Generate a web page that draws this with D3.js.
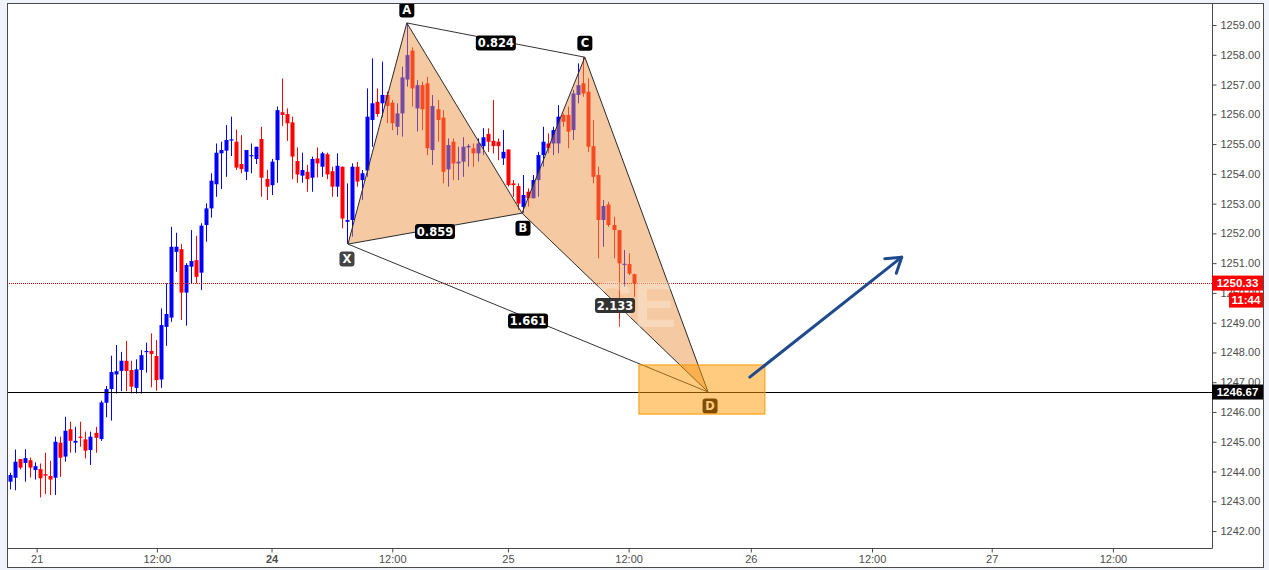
<!DOCTYPE html>
<html><head><meta charset="utf-8">
<script src="https://cdn.jsdelivr.net/npm/d3@7"></script>
<style>html,body{margin:0;padding:0;background:#f0f3fa;} svg{display:block}</style>
</head><body><svg id="c" width="1269" height="570"></svg>
<script>
// ---- data ----
const opens = [1243.66,1243.79,1244.42,1244.29,1244.38,1244.05,1244.08,1243.91,1243.85,1243.79,1244.97,1244.50,1245.42,1244.97,1245.17,1245.08,1244.72,1245.30,1245.09,1246.31,1246.77,1247.26,1247.38,1247.72,1247.41,1246.81,1247.41,1248.01,1248.05,1247.88,1247.09,1248.86,1249.17,1251.38,1251.47,1250.01,1250.88,1251.10,1250.68,1252.28,1252.84,1253.65,1254.69,1254.78,1255.12,1255.08,1254.33,1254.07,1254.60,1254.50,1255.17,1253.83,1253.62,1254.46,1256.07,1256.01,1255.73,1254.43,1253.94,1254.07,1253.87,1254.52,1254.24,1254.66,1254.09,1253.57,1254.24,1252.39,1252.45,1254.24,1253.79,1254.11,1255.81,1256.42,1256.37,1256.65,1256.39,1255.58,1256.03,1257.17,1258.14,1256.20,1256.98,1257.04,1254.80,1256.17,1255.89,1254.15,1255.08,1254.35,1254.41,1254.89,1254.86,1254.69,1254.93,1255.34,1255.11,1255.08,1254.52,1254.82,1253.68,1253.59,1252.89,1253.40,1253.18,1253.79,1254.63,1255.02,1255.02,1255.02,1255.98,1255.98,1255.47,1256.65,1257.04,1256.76,1254.93,1253.96,1252.45,1252.97,1252.28,1252.11,1250.95,1250.97,1250.63];
const highs = [1243.96,1244.74,1244.42,1244.75,1244.47,1244.31,1244.27,1244.63,1244.36,1245.17,1245.17,1245.84,1245.67,1245.50,1245.67,1245.34,1245.34,1245.50,1246.38,1246.87,1247.89,1248.25,1248.02,1248.39,1247.72,1247.77,1248.08,1248.33,1248.64,1248.42,1249.48,1250.32,1252.22,1252.02,1251.64,1251.00,1252.11,1251.92,1252.34,1253.01,1254.02,1255.02,1255.08,1255.64,1255.92,1255.49,1255.30,1254.80,1255.02,1254.91,1255.58,1254.13,1254.50,1256.26,1257.20,1256.20,1255.92,1254.89,1254.71,1254.30,1254.58,1254.89,1254.74,1254.71,1254.24,1254.69,1254.24,1253.68,1254.35,1254.40,1254.13,1256.87,1257.88,1256.87,1257.77,1256.76,1256.48,1256.37,1257.60,1259.05,1258.25,1257.15,1257.10,1257.26,1256.65,1256.48,1256.14,1255.19,1255.19,1254.91,1255.23,1255.00,1255.02,1255.19,1255.53,1255.53,1256.48,1255.19,1255.47,1254.82,1253.79,1253.68,1253.96,1253.51,1253.96,1254.74,1255.58,1255.36,1255.58,1256.31,1256.03,1256.26,1256.82,1257.71,1257.92,1257.21,1255.81,1254.24,1253.12,1253.06,1252.56,1252.11,1251.44,1251.33,1250.65];
const lows = [1243.40,1243.37,1244.07,1243.66,1243.80,1243.73,1243.13,1243.24,1243.21,1243.21,1243.82,1244.33,1244.63,1244.63,1244.83,1244.44,1244.22,1244.63,1245.03,1245.82,1245.71,1246.62,1246.70,1246.70,1246.62,1246.62,1246.62,1247.32,1246.83,1246.71,1246.81,1248.22,1249.03,1250.71,1249.09,1248.90,1250.32,1250.32,1250.10,1251.72,1252.53,1253.23,1253.49,1253.90,1254.60,1254.13,1254.02,1253.79,1254.02,1254.33,1253.23,1253.12,1253.29,1253.70,1255.61,1255.11,1253.82,1253.70,1253.70,1253.40,1253.40,1253.88,1253.90,1253.82,1253.23,1253.23,1252.17,1251.65,1251.89,1253.57,1253.12,1253.90,1254.91,1255.92,1255.90,1255.70,1255.47,1255.30,1255.25,1256.93,1256.26,1255.42,1255.47,1254.63,1254.30,1255.08,1253.68,1253.57,1253.79,1253.79,1253.90,1254.24,1254.24,1254.41,1254.63,1254.74,1254.69,1254.46,1254.30,1253.57,1253.23,1252.78,1252.68,1252.90,1253.18,1253.23,1254.24,1254.69,1254.63,1254.69,1255.58,1254.86,1255.14,1256.37,1256.59,1254.74,1253.68,1251.16,1251.55,1252.22,1251.16,1248.86,1250.21,1250.60,1249.87];
const closes = [1243.88,1244.33,1244.13,1244.45,1244.13,1244.18,1243.77,1243.86,1243.73,1245.00,1244.46,1245.37,1245.03,1245.03,1245.13,1244.70,1245.17,1245.13,1246.32,1246.77,1247.34,1247.37,1247.72,1247.38,1246.85,1247.43,1247.91,1248.05,1247.95,1247.07,1248.92,1249.29,1251.55,1251.55,1250.01,1250.94,1251.07,1250.54,1252.26,1252.84,1253.77,1254.71,1254.80,1255.14,1255.16,1254.21,1254.16,1254.80,1254.63,1254.91,1253.87,1253.57,1254.41,1256.14,1255.98,1255.70,1254.58,1253.98,1254.13,1253.82,1254.50,1254.35,1254.69,1253.98,1253.57,1254.27,1252.50,1252.45,1254.24,1253.74,1254.02,1255.92,1256.37,1256.01,1256.65,1256.28,1255.70,1256.03,1257.24,1257.99,1256.87,1256.98,1256.17,1254.86,1256.28,1255.81,1254.07,1254.97,1254.35,1254.41,1254.91,1254.94,1254.69,1255.02,1255.23,1255.08,1254.93,1254.93,1254.74,1253.62,1253.62,1253.00,1253.29,1253.18,1253.79,1254.63,1255.08,1254.86,1255.47,1255.92,1255.75,1255.42,1256.70,1256.98,1256.70,1254.91,1253.90,1252.45,1252.92,1252.28,1252.11,1250.99,1250.98,1250.65,1250.33];

const priceTicks = d3.range(1242, 1260);
const timeTickPos = [5.3, 29.2, 52, 76, 99, 123, 147.3, 171.4, 195.2, 219.3];
const timeTickLabels = ["21","12:00","24","12:00","25","12:00","26","12:00","27","12:00"];
const boldTimeLabels = ["24"];

const pointNames = ["X","A","B","C","D"];
const pointIdx = [67.2, 78.9, 101.8, 114.3, 138.8];
const pointPrice = [1251.64, 1259.07, 1252.68, 1257.92, 1246.67];
// ratio labels: [from point, to point, text]
const ratioFrom = ["X","A","X","B"];
const ratioTo   = ["B","C","D","D"];
const ratioText = ["0.859","0.824","1.661","2.133"];

const lastPrice = 1250.33, lastTimer = "11:44", levelPrice = 1246.67;
const zoneIdx = [125.05, 150.1], zonePrice = [1245.93, 1247.58];
const arrowIdx = [147.1, 177.3], arrowPrice = [1247.17, 1251.20];

// ---- layout ----
const L = 7, R = 1212, T = 3, B = 548, FR = 1263, FB = 567;
const x = d3.scaleLinear().domain([-0.6, 239]).range([L, R]);
const y = d3.scaleLinear().domain([1241.43, 1259.74]).range([B, T]);
const svg = d3.select("#c");
const font = "'Liberation Sans', Arial, sans-serif";
const lblFont = "'DejaVu Sans', Verdana, sans-serif";

svg.append("rect").attr("x", L+0.5).attr("y", T+0.5).attr("width", FR-L).attr("height", FB-T)
  .attr("fill", "#fff").attr("stroke", "#4a4a4a");

svg.append("defs").append("clipPath").attr("id","plot").append("rect")
  .attr("x", L+1).attr("y", T+1).attr("width", R-L-1).attr("height", B-T-1);
const plot = svg.append("g").attr("clip-path","url(#plot)");

const candles = opens.map((o,i)=>({i, o, h:highs[i], l:lows[i], c:closes[i]}));
const cg = plot.append("g");
cg.selectAll("line.w").data(candles).enter().append("line")
  .attr("x1", d=>Math.round(x(d.i))+0.5).attr("x2", d=>Math.round(x(d.i))+0.5)
  .attr("y1", d=>y(d.h)).attr("y2", d=>y(d.l))
  .attr("stroke", d=>d.c>=d.o?"#0000ff":"#ff0000").attr("stroke-width",1);
cg.selectAll("rect.b").data(candles).enter().append("rect")
  .attr("x", d=>Math.round(x(d.i))-1.5).attr("width", 4)
  .attr("y", d=>y(Math.max(d.o,d.c)))
  .attr("height", d=>Math.max(1.2, Math.abs(y(d.o)-y(d.c))))
  .attr("fill", d=>d.c>=d.o?"#0000ff":"#ff0000");

// level lines
plot.append("line").attr("x1",L).attr("x2",R).attr("y1",Math.round(y(levelPrice))+0.5).attr("y2",Math.round(y(levelPrice))+0.5)
  .attr("stroke","#000").attr("stroke-width",1);
plot.append("line").attr("x1",L).attr("x2",R).attr("y1",Math.round(y(lastPrice))+0.5).attr("y2",Math.round(y(lastPrice))+0.5)
  .attr("stroke","#e00000").attr("stroke-width",1).attr("stroke-dasharray","1,1");

// pattern
const P = {};
pointNames.forEach((n,k)=>{ P[n] = [x(pointIdx[k]), y(pointPrice[k])]; });
const tri = [["X","A","B"],["B","C","D"]];
plot.selectAll("path.tri").data(tri).enter().append("path")
  .attr("d", t=>"M"+t.map(n=>P[n].join(",")).join("L")+"Z")
  .attr("fill","rgba(235,148,68,0.5)").attr("stroke","#2a2a2a").attr("stroke-width",1);
// watermark (faint)
plot.append("text").attr("x", x(115.5)).attr("y", y(1248.85)).text("SE")
  .attr("font-family", font).attr("font-weight","bold").attr("font-size",64)
  .attr("fill","#fff").attr("opacity",0.28);
// diagonal thin lines
[["A","C"],["X","D"]].forEach(([a,b])=>{
  plot.append("line").attr("x1",P[a][0]).attr("y1",P[a][1]).attr("x2",P[b][0]).attr("y2",P[b][1])
    .attr("stroke","#333").attr("stroke-width",1);
});

function labelBox(g, cx, cy, txt, fill, w, h){
  g.append("rect").attr("x", cx-w/2).attr("y", cy-h/2).attr("width", w).attr("height", h)
    .attr("rx",3).attr("fill", fill);
  g.append("text").attr("x", cx).attr("y", cy+4).attr("text-anchor","middle")
    .attr("font-family", lblFont).attr("font-weight","bold").attr("font-size",11.5)
    .attr("fill","#fff").text(txt);
}
const lg = plot.append("g");
const ratioFill = ["#000","#000","#000","#333"];
ratioText.forEach((t,k)=>{
  const a = P[ratioFrom[k]], b = P[ratioTo[k]];
  labelBox(lg, (a[0]+b[0])/2, (a[1]+b[1])/2 + 3, t, ratioFill[k], 40, 15);
});
const ptOff = {X:[-1,15], A:[0,-13], B:[1,15], C:[0,-14], D:[2,14]};
const ptFill = {X:"#444", A:"#000", B:"#000", C:"#000", D:"#000"};
pointNames.forEach(n=>{
  labelBox(lg, P[n][0]+ptOff[n][0], P[n][1]+ptOff[n][1], n, ptFill[n], 15, 15);
});

// target zone over D label
plot.append("rect").attr("x", x(zoneIdx[0])).attr("y", y(zonePrice[1]))
  .attr("width", x(zoneIdx[1])-x(zoneIdx[0])).attr("height", y(zonePrice[0])-y(zonePrice[1]))
  .attr("fill","rgba(255,152,0,0.5)").attr("stroke","#ff9800").attr("stroke-width",1);

// arrow
const a0 = [x(arrowIdx[0]), y(arrowPrice[0])], a1 = [x(arrowIdx[1]), y(arrowPrice[1])];
const ang = Math.atan2(a0[1]-a1[1], a0[0]-a1[0]);
const hl = 17, spread = 0.58;
plot.append("line").attr("x1",a0[0]).attr("y1",a0[1]).attr("x2",a1[0]).attr("y2",a1[1])
  .attr("stroke","#1f4b8e").attr("stroke-width",3).attr("stroke-linecap","round");
plot.append("path")
  .attr("d", `M${a1[0]+hl*Math.cos(ang+spread)},${a1[1]+hl*Math.sin(ang+spread)}L${a1[0]},${a1[1]}L${a1[0]+hl*Math.cos(ang-spread)},${a1[1]+hl*Math.sin(ang-spread)}`)
  .attr("fill","none").attr("stroke","#1f4b8e").attr("stroke-width",3).attr("stroke-linecap","round").attr("stroke-linejoin","round");

// axes
const yAx = svg.append("g").attr("transform", `translate(${R+0.5},0)`)
  .call(d3.axisRight(y).tickValues(priceTicks).tickFormat(d3.format(".2f")).tickSize(4).tickPadding(4));
yAx.select(".domain").attr("d", `M0,${T}V${B+0.5}`).attr("stroke","#4a4a4a");
yAx.selectAll(".tick line").attr("stroke","#4a4a4a");
yAx.selectAll(".tick text").attr("font-family",font).attr("font-size",11).attr("fill","#4d4d4d");

const xAx = svg.append("g").attr("transform", `translate(0,${B+0.5})`)
  .call(d3.axisBottom(x).tickValues(timeTickPos).tickFormat((d,i)=>timeTickLabels[i]).tickSize(4).tickPadding(3));
xAx.select(".domain").attr("d", `M${L},0H${R+0.5}`).attr("stroke","#4a4a4a");
xAx.selectAll(".tick line").attr("stroke","#4a4a4a");
xAx.selectAll(".tick text").attr("font-family",font).attr("font-size",11).attr("fill","#4d4d4d")
  .attr("font-weight",(d,i)=>boldTimeLabels.includes(timeTickLabels[i])?"bold":"normal");

// price badges
function badge(x0, w, cy, txt, fill){
  svg.append("rect").attr("x", x0).attr("y", cy-7.5).attr("width", w).attr("height", 15).attr("fill", fill);
  svg.append("text").attr("x", x0+w/2).attr("y", cy+4).attr("text-anchor","middle")
    .attr("font-family",font).attr("font-weight","bold").attr("font-size",11.5).attr("fill","#fff").text(txt);
}
badge(R, FR-R, y(lastPrice), d3.format(".2f")(lastPrice), "#ff0000");
badge(1229, FR-1229, y(lastPrice)+17, lastTimer, "#ff0000");
badge(R, FR-R, y(levelPrice), d3.format(".2f")(levelPrice), "#000");
</script></body></html>
